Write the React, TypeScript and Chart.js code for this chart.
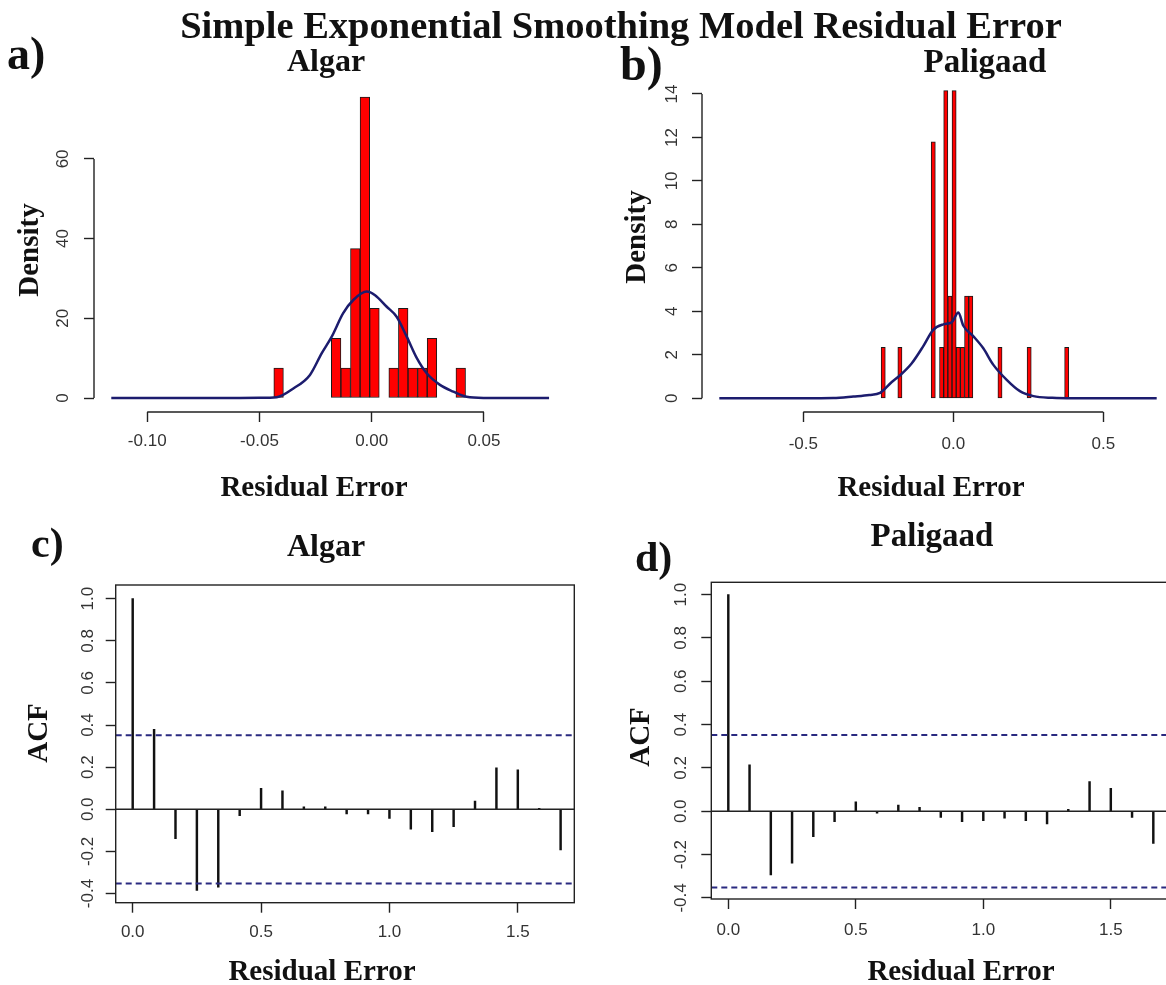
import React, { useEffect, useRef } from "react";
import { Chart, registerables } from "chart.js";

Chart.register(...registerables);

// ---------------- Data ----------------
// a) Algar histogram (density scale) + kernel density
const algarBinMid = [
  -0.04147, -0.0372, -0.03293, -0.02866, -0.02439, -0.02012, -0.01585, -0.01158, -0.00731, -0.00304,
  0.00123, 0.0055, 0.00977, 0.01404, 0.01831, 0.02258, 0.02685, 0.03112, 0.03539, 0.03966,
];
const algarDensity = [7.5, 0, 0, 0, 0, 0, 15, 7.5, 37.5, 75.5, 22.5, 0, 7.5, 22.5, 7.5, 7.5, 15, 0, 0, 7.5];
const algarKdeX = [
  -0.116, -0.08, -0.05, -0.0423, -0.0349, -0.0275, -0.0223, -0.0178, -0.0127, -0.0082, -0.0022, 0.0015,
  0.0067, 0.0111, 0.0156, 0.0201, 0.0245, 0.0304, 0.0364, 0.0423, 0.05, 0.079,
];
const algarKdeY = [0, 0, 0.05, 0.2, 2.4, 5.8, 11.2, 15.4, 21.3, 24.6, 26.7, 25.8, 22.9, 20.4, 15.4, 10.0, 6.2, 3.3, 1.6, 0.3, 0.02, 0];
const algarXTicks = [-0.1, -0.05, 0, 0.05];
const algarXTickLabels = ["-0.10", "-0.05", "0.00", "0.05"];
const algarYTicks = [0, 20, 40, 60];
const algarYTickLabels = ["0", "20", "40", "60"];

// b) Paligaad histogram + kernel density
const paligaadBinMid = [-0.2336, -0.178, -0.0668, -0.039, -0.0251, -0.0112, 0.0027, 0.0166, 0.0305, 0.0444, 0.0583, 0.1556, 0.2529, 0.378];
const paligaadDensity = [2.35, 2.35, 11.8, 2.35, 14.15, 4.7, 14.15, 2.35, 2.35, 4.7, 4.7, 2.35, 2.35, 2.35];
const paligaadKdeX = [
  -0.78, -0.5, -0.4, -0.333, -0.28, -0.244, -0.205, -0.178, -0.139, -0.1, -0.067, -0.033, -0.005, 0.017,
  0.033, 0.067, 0.1, 0.133, 0.178, 0.222, 0.267, 0.33, 0.4, 0.678,
];
const paligaadKdeY = [0, 0, 0.01, 0.08, 0.15, 0.25, 0.75, 1.05, 1.6, 2.4, 3.15, 3.4, 3.5, 3.95, 3.35, 2.85, 2.3, 1.55, 0.85, 0.33, 0.1, 0.02, 0, 0];
const paligaadXTicks = [-0.5, 0, 0.5];
const paligaadXTickLabels = ["-0.5", "0.0", "0.5"];
const paligaadYTicks = [0, 2, 4, 6, 8, 10, 12, 14];
const paligaadYTickLabels = ["0", "2", "4", "6", "8", "10", "12", "14"];

// c) / d) ACF
const acfLags = [
  0, 0.0833, 0.1667, 0.25, 0.3333, 0.4167, 0.5, 0.5833, 0.6667, 0.75, 0.8333, 0.9167, 1.0, 1.0833, 1.1667,
  1.25, 1.3333, 1.4167, 1.5, 1.5833, 1.6667,
];
const algarAcf = [1.0, 0.38, -0.14, -0.385, -0.37, -0.03, 0.1, 0.088, 0.012, 0.012, -0.022, -0.022, -0.043, -0.094, -0.106, -0.082, 0.039, 0.197, 0.187, 0.005, -0.193];
const paligaadAcf = [1.0, 0.214, -0.294, -0.24, -0.117, -0.048, 0.044, -0.009, 0.028, 0.018, -0.028, -0.048, -0.043, -0.032, -0.043, -0.058, 0.009, 0.137, 0.106, -0.028, -0.148];
const acfBound = 0.352;
const acfXTicks = [0, 0.5, 1.0, 1.5];
const acfXTickLabels = ["0.0", "0.5", "1.0", "1.5"];
const acfYTicks = [-0.4, -0.2, 0, 0.2, 0.4, 0.6, 0.8, 1.0];
const acfYTickLabels = ["-0.4", "-0.2", "0.0", "0.2", "0.4", "0.6", "0.8", "1.0"];

// ---------------- Styling helpers ----------------
const SANS = '"Liberation Sans", Arial, Helvetica, sans-serif';
const SERIF = '"Liberation Serif", "Times New Roman", Times, serif';
const AXIS_COLOR = "#222";
const TICK_TEXT = "#333";
const NAVY = "#1c1c6e";
const DASH = "#2a2a80";

const rAxesPlugin = {
  id: "rAxes",
  afterDraw(chart: any, _args: any, opts: any) {
    const { ctx, chartArea: ca, scales } = chart;
    ctx.save();
    ctx.strokeStyle = AXIS_COLOR;
    ctx.lineWidth = 1.4;
    if (opts && opts.box) {
      ctx.strokeRect(ca.left, ca.top, ca.right - ca.left, ca.bottom - ca.top);
    } else {
      const xs = scales.x;
      const ys = scales.y;
      const xt = xs.ticks;
      const yt = ys.ticks;
      ctx.beginPath();
      ctx.moveTo(xs.getPixelForValue(xt[0].value), ca.bottom);
      ctx.lineTo(xs.getPixelForValue(xt[xt.length - 1].value), ca.bottom);
      ctx.moveTo(ca.left, ys.getPixelForValue(yt[0].value));
      ctx.lineTo(ca.left, ys.getPixelForValue(yt[yt.length - 1].value));
      ctx.stroke();
    }
    ctx.restore();
  },
};

function xScale(min: number, max: number, ticks: number[], labels: string[], padding: number, height: number) {
  return {
    type: "linear",
    min,
    max,
    offset: false,
    afterBuildTicks: (s: any) => {
      s.ticks = ticks.map((v) => ({ value: v }));
    },
    afterFit: (s: any) => {
      s.height = height;
    },
    grid: { display: true, drawOnChartArea: false, drawTicks: true, tickLength: 10, tickColor: AXIS_COLOR, tickWidth: 1.4, offset: false },
    border: { display: false },
    ticks: {
      autoSkip: false,
      maxRotation: 0,
      minRotation: 0,
      padding,
      color: TICK_TEXT,
      font: { family: SANS, size: 17 },
      callback: (_v: any, i: number) => labels[i],
    },
  };
}

function yScale(min: number, max: number, ticks: number[], labels: string[], padding: number, width: number) {
  return {
    type: "linear",
    min,
    max,
    afterBuildTicks: (s: any) => {
      s.ticks = ticks.map((v) => ({ value: v }));
    },
    afterFit: (s: any) => {
      s.width = width;
    },
    grid: { display: true, drawOnChartArea: false, drawTicks: true, tickLength: 10, tickColor: AXIS_COLOR, tickWidth: 1.4 },
    border: { display: false },
    ticks: {
      autoSkip: false,
      minRotation: 90,
      maxRotation: 90,
      crossAlign: "center",
      padding,
      color: TICK_TEXT,
      font: { family: SANS, size: 17 },
      callback: (_v: any, i: number) => labels[i],
    },
  };
}

function baseOptions(pad: { top: number; right: number }, box: boolean) {
  return {
    animation: false,
    responsive: false,
    devicePixelRatio: 1,
    layout: { padding: { top: pad.top, right: pad.right, left: 0, bottom: 0 } },
    plugins: { legend: { display: false }, tooltip: { enabled: false }, title: { display: false }, rAxes: { box } },
    events: [],
  };
}

function histConfig(
  binMid: number[],
  dens: number[],
  kx: number[],
  ky: number[],
  xr: [number, number],
  yr: [number, number],
  xt: number[],
  xl: string[],
  yt: number[],
  yl: string[],
  geo: { top: number; right: number; yWidth: number; xHeight: number; xPad: number; yPad: number }
) {
  return {
    type: "bar",
    data: {
      datasets: [
        {
          type: "line",
          data: kx.map((x, i) => ({ x, y: ky[i] })),
          borderColor: NAVY,
          borderWidth: 2.5,
          pointRadius: 0,
          cubicInterpolationMode: "monotone",
          fill: false,
          order: 0,
        },
        {
          type: "bar",
          data: binMid.map((x, i) => ({ x, y: dens[i] })),
          backgroundColor: "#ff0000",
          borderColor: "#1a1a1a",
          borderWidth: 1,
          borderSkipped: false,
          categoryPercentage: 1,
          barPercentage: 1,
          order: 1,
        },
      ],
    },
    options: {
      ...baseOptions({ top: geo.top, right: geo.right }, false),
      scales: {
        x: xScale(xr[0], xr[1], xt, xl, geo.xPad, geo.xHeight),
        y: yScale(yr[0], yr[1], yt, yl, geo.yPad, geo.yWidth),
      },
    },
    plugins: [rAxesPlugin],
  };
}

function acfConfig(
  acf: number[],
  xr: [number, number],
  yr: [number, number],
  geo: { top: number; right: number; yWidth: number; xHeight: number; xPad: number; yPad: number }
) {
  const hline = (y: number, dash: number[], color: string, w: number) => ({
    type: "line",
    data: [
      { x: xr[0], y },
      { x: xr[1], y },
    ],
    borderColor: color,
    borderWidth: w,
    borderDash: dash,
    pointRadius: 0,
    fill: false,
    order: 0,
  });
  return {
    type: "bar",
    data: {
      datasets: [
        hline(0, [], AXIS_COLOR, 1.4),
        hline(acfBound, [6, 4], DASH, 2),
        hline(-acfBound, [6, 4], DASH, 2),
        {
          type: "bar",
          data: acfLags.map((x, i) => ({ x, y: acf[i] })),
          backgroundColor: "#111",
          borderWidth: 0,
          barThickness: 1.8,
          order: 1,
        },
      ],
    },
    options: {
      ...baseOptions({ top: geo.top, right: geo.right }, true),
      scales: {
        x: xScale(xr[0], xr[1], acfXTicks, acfXTickLabels, geo.xPad, geo.xHeight),
        y: yScale(yr[0], yr[1], acfYTicks, acfYTickLabels, geo.yPad, geo.yWidth),
      },
    },
    plugins: [rAxesPlugin],
  };
}

function ChartCanvas(props: { left: number; top: number; width: number; height: number; make: () => any }) {
  const ref = useRef<HTMLCanvasElement | null>(null);
  useEffect(() => {
    if (!ref.current) return;
    const chart = new Chart(ref.current, props.make());
    return () => chart.destroy();
  }, []);
  return (
    <canvas
      ref={ref}
      width={props.width}
      height={props.height}
      style={{ position: "absolute", left: props.left, top: props.top, width: props.width, height: props.height }}
    />
  );
}

function Text(props: { text: string; x: number; y: number; size: number; center?: boolean }) {
  return (
    <div
      style={{
        position: "absolute",
        left: props.x,
        top: props.y - 0.8375 * props.size,
        fontFamily: SERIF,
        fontWeight: "bold",
        fontSize: props.size,
        lineHeight: 1,
        color: "#111",
        whiteSpace: "nowrap",
        transform: props.center ? "translateX(-50%)" : undefined,
      }}
    >
      {props.text}
    </div>
  );
}

function VText(props: { text: string; cx: number; cy: number; size: number }) {
  return (
    <div
      style={{
        position: "absolute",
        left: props.cx,
        top: props.cy,
        fontFamily: SERIF,
        fontWeight: "bold",
        fontSize: props.size,
        lineHeight: 1,
        color: "#111",
        whiteSpace: "nowrap",
        transform: "translate(-50%, -50%) rotate(-90deg)",
      }}
    >
      {props.text}
    </div>
  );
}

export default function App() {
  return (
    <div
      style={{
        position: "fixed",
        left: 0,
        top: 0,
        width: 1166,
        height: 985,
        overflow: "hidden",
        background: "#fff",
      }}
    >
      <ChartCanvas
        left={0}
        top={40}
        width={583}
        height={440}
        make={() =>
          histConfig(
            algarBinMid,
            algarDensity,
            algarKdeX,
            algarKdeY,
            [-0.1237, 0.0861],
            [-3.51, 78.8],
            algarXTicks,
            algarXTickLabels,
            algarYTicks,
            algarYTickLabels,
            { top: 44, right: 18, yWidth: 94, xHeight: 68, xPad: 9.5, yPad: 11 }
          )
        }
      />
      <ChartCanvas
        left={600}
        top={40}
        width={590}
        height={440}
        make={() =>
          histConfig(
            paligaadBinMid,
            paligaadDensity,
            paligaadKdeX,
            paligaadKdeY,
            [-0.8377, 0.7357],
            [-0.63, 14.78],
            paligaadXTicks,
            paligaadXTickLabels,
            paligaadYTicks,
            paligaadYTickLabels,
            { top: 37, right: 16, yWidth: 102, xHeight: 68, xPad: 12, yPad: 10.5 }
          )
        }
      />
      <ChartCanvas
        left={0}
        top={500}
        width={583}
        height={460}
        make={() => acfConfig(algarAcf, [-0.0662, 1.72], [-0.4435, 1.065], { top: 85, right: 8.7, yWidth: 115.7, xHeight: 57.3, xPad: 9.8, yPad: 2.8 })}
      />
      <ChartCanvas
        left={600}
        top={500}
        width={590}
        height={460}
        make={() => acfConfig(paligaadAcf, [-0.0667, 1.7333], [-0.405, 1.057], { top: 82.3, right: 19.7, yWidth: 111.3, xHeight: 61, xPad: 10.8, yPad: 5.2 })}
      />

      <Text text="Simple Exponential Smoothing Model Residual Error" x={621} y={38} size={38.5} center />
      <Text text="a)" x={7} y={70} size={46} />
      <Text text="b)" x={620} y={80} size={48} />
      <Text text="c)" x={31} y={557} size={42} />
      <Text text="d)" x={635} y={571} size={42} />

      <Text text="Algar" x={326} y={71} size={32} center />
      <Text text="Paligaad" x={985} y={73} size={33} center />
      <Text text="Algar" x={326} y={556} size={32} center />
      <Text text="Paligaad" x={932} y={547} size={33} center />

      <VText text="Density" cx={28} cy={250} size={29} />
      <VText text="Density" cx={635} cy={237} size={29} />
      <VText text="ACF" cx={37} cy={733} size={29} />
      <VText text="ACF" cx={639} cy={737} size={29} />

      <Text text="Residual Error" x={314} y={496} size={29} center />
      <Text text="Residual Error" x={931} y={496} size={29} center />
      <Text text="Residual Error" x={322} y={980} size={29} center />
      <Text text="Residual Error" x={961} y={980} size={29} center />
    </div>
  );
}
